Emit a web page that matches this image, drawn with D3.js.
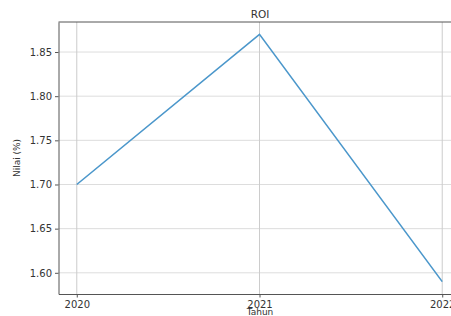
<!DOCTYPE html>
<meta charset="utf-8">
<style>
    body { margin: 0; background: #fff; }
    svg text { font-family: 'DejaVu Sans', sans-serif; fill: #333; }
    .axis path, .axis line { stroke: #555; }
    .grid line { stroke: #ddd; }
</style>
<svg width="451" height="316"></svg>
<script src="https://d3js.org/d3.v7.min.js"></script>
<script>
    var years = [2020, 2021, 2022];
    var roi = [1.70, 1.87, 1.59];
    var yTicks = [1.60, 1.65, 1.70, 1.75, 1.80, 1.85];

    var svg = d3.select("svg"),
        margin = {top: 22, left: 58.5},
        width = 402,
        height = 272,
        g = svg.append("g").attr("transform", "translate(" + margin.left + "," + margin.top + ")");

    var x = d3.scaleLinear().domain([2019.9, 2022.1]).range([0, width]);
    var y = d3.scaleLinear().domain([1.576, 1.884]).range([height, 0]);

    // grid
    g.append("g").attr("class", "grid")
        .selectAll("line").data(yTicks).enter().append("line")
        .attr("x1", 0).attr("x2", width)
        .attr("y1", function (d) { return y(d); })
        .attr("y2", function (d) { return y(d); });
    g.append("g").attr("class", "grid")
        .selectAll("line").data(years).enter().append("line")
        .attr("y1", 0).attr("y2", height)
        .attr("x1", function (d) { return x(d); })
        .attr("x2", function (d) { return x(d); })
        .style("stroke", "#ccc");

    var line = d3.line()
        .x(function (d, i) { return x(years[i]); })
        .y(function (d) { return y(d); });

    g.append("path")
        .datum(roi)
        .attr("fill", "none")
        .attr("stroke", "#4b97cb")
        .attr("stroke-width", 1.6)
        .attr("d", line);

    g.append("g")
        .attr("class", "axis")
        .attr("transform", "translate(0," + height + ")")
        .call(d3.axisBottom(x).tickValues(years).tickFormat(d3.format("d")).tickSizeInner(3.5).tickSizeOuter(0).tickPadding(3))
        .selectAll("text").style("font-size", "10px").style("fill", "#333");

    g.append("g")
        .attr("class", "axis")
        .call(d3.axisLeft(y).tickValues(yTicks).tickFormat(d3.format(".2f")).tickSizeInner(3.5).tickSizeOuter(0).tickPadding(3))
        .selectAll("text").style("font-size", "10px").style("fill", "#333");

    // top spine
    g.append("line").attr("x1", 0).attr("x2", width).attr("y1", 0).attr("y2", 0)
        .style("stroke", "#555");

    svg.append("text")
        .attr("x", 260).attr("y", 18)
        .attr("text-anchor", "middle")
        .style("font-size", "10.5px")
        .text("ROI");

    svg.append("text")
        .attr("x", 260).attr("y", 315)
        .attr("text-anchor", "middle")
        .style("font-size", "9px")
        .text("Tahun");

    svg.append("text")
        .attr("transform", "translate(20,158) rotate(-90)")
        .attr("text-anchor", "middle")
        .style("font-size", "9px")
        .text("Nilai (%)");
</script>
